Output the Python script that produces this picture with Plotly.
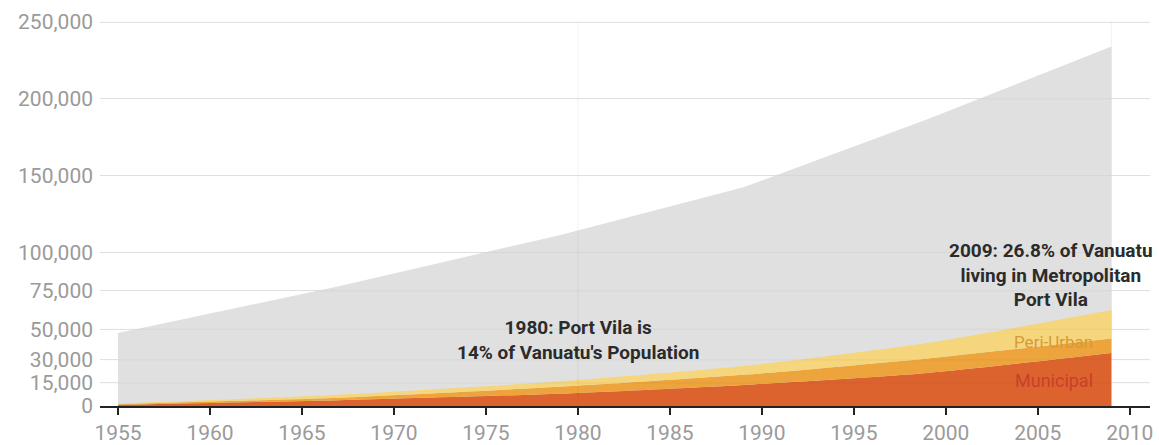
import plotly.graph_objects as go

years = [1955, 1967, 1979, 1989, 1999, 2009]
vanuatu_total = [47500, 77988, 111251, 142419, 186678, 234023]
municipal = [800, 3800, 8000, 13700, 21500, 34500]
peri_urban = [400, 1600, 4500, 6600, 9500, 9500]
metro_fringe = [500, 2000, 3500, 5700, 10000, 18500]

y_ticks = [0, 15000, 30000, 50000, 75000, 100000, 150000, 200000, 250000]
y_tick_text = ["0", "15,000", "30,000", "50,000", "75,000", "100,000", "150,000", "200,000", "250,000"]
x_ticks = [1955, 1960, 1965, 1970, 1975, 1980, 1985, 1990, 1995, 2000, 2005, 2010]
marker_years = [1980, 2009]

fig = go.Figure()
fig.add_trace(go.Scatter(x=years, y=vanuatu_total, name="Vanuatu", mode="lines",
                         fill="tozeroy", fillcolor="#e0e0e0", line=dict(width=0, color="#e0e0e0"),
                         hoverinfo="skip"))
for name, vals, col in [("Municipal", municipal, "#dd632e"),
                        ("Peri-Urban", peri_urban, "#eda43c"),
                        ("Metropolitan fringe", metro_fringe, "#f5d67c")]:
    fig.add_trace(go.Scatter(x=years, y=vals, name=name, mode="lines", stackgroup="metro",
                             fillcolor=col, line=dict(width=0, color=col, shape="spline", smoothing=0.6)))

# gridlines drawn over the areas
for v in y_ticks[1:]:
    fig.add_shape(type="line", xref="paper", x0=0, x1=1, yref="y", y0=v, y1=v,
                  line=dict(color="rgba(0,0,0,0.045)", width=1), layer="above")
for yr in marker_years:
    fig.add_shape(type="line", xref="x", x0=yr, x1=yr, yref="y", y0=0, y1=250000,
                  line=dict(color="rgba(0,0,0,0.05)", width=1), layer="above")

fig.add_annotation(x=1980, y=43300, text="1980: Port Vila is<br>14% of Vanuatu's Population",
                   showarrow=False, font=dict(family="Roboto", size=19, color="#2b2b2b", weight="bold"),
                   align="center")
fig.add_annotation(x=2005.7, y=85000, text="2009: 26.8% of Vanuatu<br>living in Metropolitan<br>Port Vila",
                   showarrow=False, font=dict(family="Roboto", size=19, color="#2b2b2b", weight="bold"),
                   align="center")
fig.add_annotation(x=2005.85, y=41700, text="Peri-Urban", showarrow=False,
                   font=dict(family="Roboto", size=17, color="#d89a36"))
fig.add_annotation(x=2005.9, y=16300, text="Municipal", showarrow=False,
                   font=dict(family="Roboto", size=18, color="#c8402a"))

fig.update_layout(
    width=1159, height=445,
    margin=dict(l=100, r=9, t=19, b=39),
    paper_bgcolor="white", plot_bgcolor="white",
    showlegend=False,
    font=dict(family="Roboto", color="#9a9a9a", size=21),
)
fig.update_xaxes(range=[1954.02, 2011.1], tickvals=x_ticks, showgrid=False, zeroline=False,
                 showline=True, linecolor="#222222", linewidth=2, automargin=False,
                 ticks="outside", ticklen=7, tickcolor="#222222", tickwidth=2,
                 tickfont=dict(family="Roboto", size=21, color="#9a9a9a"))
fig.update_yaxes(range=[0, 252000], tickvals=y_ticks, ticktext=y_tick_text, automargin=False,
                 showgrid=True, gridcolor="#e8e8e8", gridwidth=1, zeroline=False,
                 showline=False, ticks="", ticklabelstandoff=6,
                 tickfont=dict(family="Roboto", size=21, color="#9a9a9a"))

fig.write_html("out.html")
